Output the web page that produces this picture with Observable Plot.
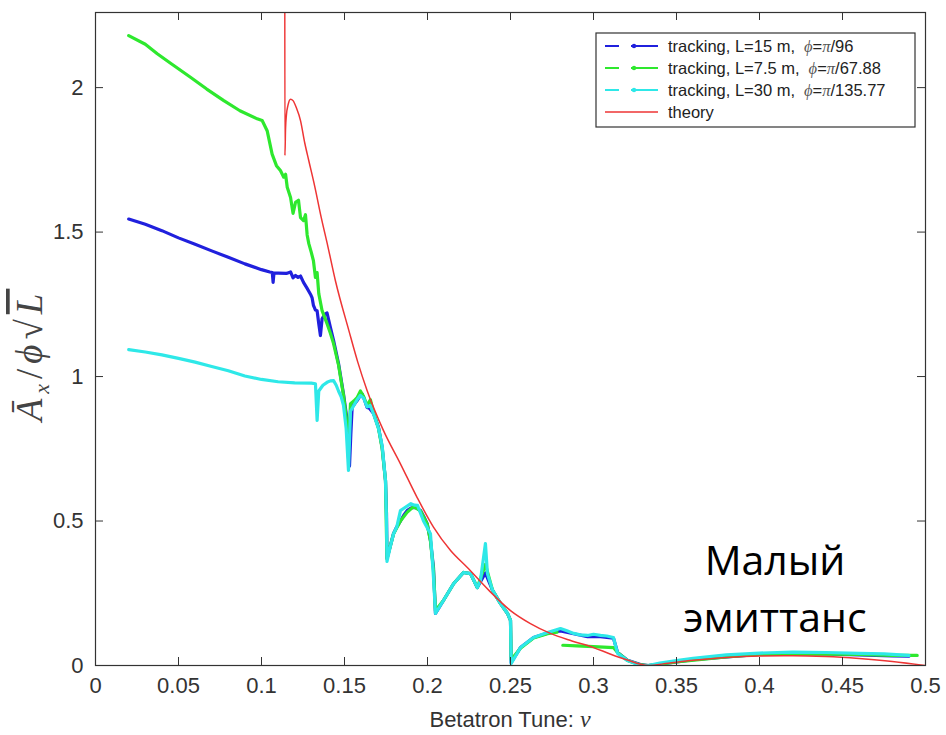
<!DOCTYPE html>
<html><head><meta charset="utf-8">
<script src="https://cdn.jsdelivr.net/npm/d3@7"></script>
<script src="https://cdn.jsdelivr.net/npm/@observablehq/plot@0.6"></script>
<style>
body{margin:0;background:#fff;}
#chart{position:relative;width:946px;height:735px;}
</style></head><body><div id="chart"></div>
<script>
// ---- data ----
const xTicks = [0,0.05,0.1,0.15,0.2,0.25,0.3,0.35,0.4,0.45,0.5];
const xTickLabels = ["0","0.05","0.1","0.15","0.2","0.25","0.3","0.35","0.4","0.45","0.5"];
const yTicks = [0,0.5,1,1.5,2];
const yTickLabels = ["0","0.5","1","1.5","2"];

const seriesNames = ["L15","L7.5","L30","theory"];
const legendText = ["tracking, L=15 m,","tracking, L=7.5 m,","tracking, L=30 m,","theory"];
const legendPhi = ["96","67.88","135.77",null];
const xLabel = "Betatron Tune: ";
const note = ["Малый","эмиттанс"];

const trackL15 = [[0.02,1.545],[0.03,1.527],[0.04,1.505],[0.05,1.48],[0.06,1.458],[0.07,1.435],[0.08,1.413],[0.09,1.39],[0.1,1.37],[0.105,1.362],[0.1065,1.36],[0.107,1.326],[0.1075,1.358],[0.11,1.358],[0.115,1.357],[0.1175,1.362],[0.119,1.342],[0.1205,1.35],[0.122,1.343],[0.1235,1.348],[0.1253,1.326],[0.1275,1.305],[0.1295,1.285],[0.1305,1.272],[0.1313,1.246],[0.1325,1.23],[0.1335,1.228],[0.1345,1.183],[0.1355,1.142],[0.1365,1.2],[0.138,1.215],[0.1395,1.22],[0.1415,1.17],[0.1434,1.125],[0.1464,1.045],[0.1494,0.94],[0.1516,0.848],[0.1524,0.72],[0.153,0.69],[0.1538,0.8],[0.1546,0.893],[0.156,0.905],[0.1576,0.917],[0.159,0.93],[0.1606,0.94],[0.162,0.92],[0.1636,0.893],[0.165,0.89],[0.1675,0.872],[0.1705,0.824],[0.1727,0.755],[0.1747,0.64],[0.1753,0.526],[0.1756,0.37],[0.177,0.4],[0.1795,0.456],[0.1815,0.48],[0.1837,0.5],[0.1857,0.52],[0.1877,0.536],[0.19,0.545],[0.1916,0.547],[0.1935,0.545],[0.1958,0.536],[0.1978,0.515],[0.1998,0.491],[0.2018,0.432],[0.2036,0.339],[0.2048,0.18],[0.2096,0.225],[0.2157,0.283],[0.2217,0.322],[0.2259,0.318],[0.23,0.27],[0.2319,0.29],[0.2349,0.32],[0.2392,0.26],[0.244,0.214],[0.2482,0.18],[0.25,0.156],[0.2504,0.01],[0.256,0.062],[0.2639,0.097],[0.2723,0.112],[0.2801,0.12],[0.288,0.11],[0.2964,0.1],[0.3042,0.1],[0.312,0.095],[0.3145,0.045],[0.3205,0.018],[0.3283,0.003],[0.333,0],[0.34,0.005],[0.35,0.012],[0.36,0.02],[0.38,0.03],[0.4,0.038],[0.42,0.04],[0.44,0.04],[0.46,0.037],[0.48,0.033],[0.49,0.032]];

const trackL75 = [[0.02,2.18],[0.03,2.15],[0.0372,2.117],[0.045,2.085],[0.0572,2.036],[0.067,1.995],[0.0773,1.955],[0.087,1.92],[0.0974,1.892],[0.1004,1.886],[0.1034,1.851],[0.1064,1.77],[0.109,1.73],[0.1114,1.713],[0.1134,1.69],[0.1145,1.7],[0.1155,1.655],[0.1175,1.62],[0.119,1.565],[0.1205,1.603],[0.1223,1.61],[0.1235,1.55],[0.1253,1.54],[0.1265,1.56],[0.1275,1.49],[0.1285,1.46],[0.13,1.43],[0.1313,1.4],[0.1325,1.343],[0.1335,1.36],[0.1345,1.287],[0.1365,1.228],[0.1395,1.183],[0.1415,1.15],[0.1434,1.114],[0.1464,1.04],[0.1494,0.935],[0.151,0.86],[0.1524,0.75],[0.1536,0.906],[0.1556,0.915],[0.1576,0.927],[0.1596,0.95],[0.1616,0.93],[0.1636,0.9],[0.1656,0.92],[0.1675,0.875],[0.1705,0.82],[0.1727,0.75],[0.1747,0.64],[0.1753,0.45],[0.1756,0.37],[0.1795,0.455],[0.1837,0.5],[0.1877,0.53],[0.1916,0.55],[0.1958,0.535],[0.1998,0.49],[0.2018,0.43],[0.2036,0.33],[0.2048,0.19],[0.2096,0.225],[0.2157,0.283],[0.2217,0.322],[0.2259,0.318],[0.23,0.27],[0.2349,0.35],[0.2392,0.26],[0.244,0.214],[0.2482,0.18],[0.25,0.156],[0.2504,0.02],[0.256,0.06],[0.2639,0.095],[0.2723,0.11],[0.278,0.115],[0.281,null],[0.2815,0.07],[0.29,0.068],[0.3,0.065],[0.312,0.062],[0.3145,0.045],[0.3205,0.017],[0.3283,0.002],[0.333,0],[0.35,0.012],[0.38,0.03],[0.4,0.038],[0.43,0.04],[0.46,0.038],[0.48,0.035],[0.495,0.035]];

const trackL30 = [[0.02,1.093],[0.03,1.085],[0.04,1.075],[0.05,1.063],[0.06,1.05],[0.07,1.035],[0.08,1.02],[0.09,1.002],[0.1,0.99],[0.11,0.982],[0.12,0.978],[0.13,0.977],[0.1325,0.975],[0.1335,0.848],[0.1345,0.95],[0.137,0.97],[0.1395,0.98],[0.1415,0.985],[0.1434,0.986],[0.145,0.97],[0.1464,0.95],[0.148,0.93],[0.1494,0.9],[0.151,0.82],[0.1524,0.675],[0.1536,0.88],[0.1556,0.9],[0.1576,0.92],[0.1596,0.935],[0.1616,0.925],[0.1636,0.895],[0.1656,0.9],[0.1675,0.87],[0.1705,0.82],[0.1727,0.76],[0.1747,0.64],[0.1753,0.5],[0.1756,0.36],[0.1775,0.41],[0.1795,0.455],[0.1815,0.48],[0.1837,0.536],[0.186,0.545],[0.19,0.56],[0.192,0.555],[0.194,0.554],[0.1976,0.5],[0.2018,0.456],[0.2036,0.305],[0.2048,0.18],[0.2096,0.225],[0.2157,0.283],[0.2217,0.322],[0.2259,0.318],[0.23,0.27],[0.2319,0.294],[0.2349,0.422],[0.2361,0.318],[0.2392,0.26],[0.244,0.214],[0.2482,0.18],[0.25,0.156],[0.2504,0.007],[0.256,0.062],[0.2639,0.097],[0.2723,0.114],[0.2801,0.128],[0.284,0.12],[0.288,0.111],[0.292,0.106],[0.2964,0.104],[0.3,0.108],[0.3042,0.104],[0.308,0.102],[0.312,0.097],[0.3145,0.042],[0.3205,0.017],[0.3283,0],[0.333,0],[0.34,0.008],[0.35,0.017],[0.36,0.025],[0.38,0.037],[0.4,0.043],[0.42,0.046],[0.44,0.045],[0.46,0.042],[0.475,0.04],[0.49,0.035]];

const theory = [[0.114,2.6],[0.1141,1.765],[0.1145,1.86],[0.115,1.905],[0.116,1.94],[0.1175,1.96],[0.119,1.955],[0.121,1.93],[0.1235,1.886],[0.126,1.81],[0.1285,1.747],[0.132,1.66],[0.136,1.55],[0.14,1.45],[0.1446,1.33],[0.1526,1.16],[0.158,1.05],[0.1636,0.952],[0.1735,0.813],[0.1837,0.698],[0.1937,0.582],[0.2036,0.479],[0.2139,0.398],[0.224,0.339],[0.237,0.26],[0.25,0.19],[0.262,0.145],[0.274,0.111],[0.287,0.085],[0.3,0.062],[0.31,0.04],[0.32,0.02],[0.333,0],[0.345,0.008],[0.36,0.018],[0.38,0.028],[0.4,0.033],[0.42,0.034],[0.44,0.031],[0.46,0.024],[0.48,0.014],[0.5,0]];

const colors = ["#2020dd","#2ee82e","#2ee8e8","#ee3535"];

// ---- build ----
const W = 946, H = 735, mL = 95, mR = 21, mT = 12, mB = 70;
const innerW = W - mL - mR, innerH = H - mT - mB;
const toRows = (arr, s) => arr.map(([nu, a]) => ({nu, a, s}));
const rows = [toRows(trackL15, seriesNames[0]), toRows(trackL75, seriesNames[1]), toRows(trackL30, seriesNames[2])];
const theoryRows = toRows(theory, seriesNames[3]);
const axisColor = "#333";
const tickLen = 8;

const plot = Plot.plot({
  width: W, height: H,
  marginLeft: mL, marginRight: mR, marginTop: mT, marginBottom: mB,
  style: {fontFamily: "'Liberation Sans', Arial, sans-serif", background: "white", color: axisColor, overflow: "visible"},
  x: {domain: [0, 0.5]},
  y: {domain: [0, 2.26]},
  marks: [
    ...rows.map((r, i) => Plot.line(r, {x: "nu", y: "a", stroke: colors[i], strokeWidth: 3.2, clip: true})),
    Plot.line(theoryRows, {x: "nu", y: "a", stroke: colors[3], strokeWidth: 1.5, curve: "monotone-x", clip: true}),
    Plot.frame({stroke: axisColor, strokeWidth: 1.2}),
    Plot.gridX(xTicks, {stroke: axisColor, strokeOpacity: 1, insetTop: innerH - tickLen}),
    Plot.gridX(xTicks, {stroke: axisColor, strokeOpacity: 1, insetBottom: innerH - tickLen}),
    Plot.gridY(yTicks, {stroke: axisColor, strokeOpacity: 1, insetRight: innerW - tickLen}),
    Plot.gridY(yTicks, {stroke: axisColor, strokeOpacity: 1, insetLeft: innerW - tickLen}),
    Plot.axisX(xTicks, {tickSize: 0, tickPadding: 12, fontSize: 22, label: null, tickFormat: (d) => xTickLabels[xTicks.indexOf(d)]}),
    Plot.axisY(yTicks, {tickSize: 0, tickPadding: 12, fontSize: 22, label: null, tickFormat: (d) => yTickLabels[yTicks.indexOf(d)]})
  ]
});
document.getElementById("chart").appendChild(plot);

const svg = d3.select(plot);
// x label
const xl = svg.append("text").attr("x", mL + innerW / 2).attr("y", 727).attr("text-anchor", "middle")
  .attr("font-family", "'Liberation Sans', Arial, sans-serif").attr("font-size", 22).attr("fill", axisColor);
xl.append("tspan").text(xLabel);
xl.append("tspan").attr("font-family", "'Liberation Serif', serif").attr("font-style", "italic").attr("font-size", 24).text("ν");

// y label
const yl = svg.append("text").attr("transform", "translate(42,355) rotate(-90)").attr("text-anchor", "middle")
  .attr("font-family", "'Liberation Serif', serif").attr("font-style", "italic").attr("font-size", 37)
  .attr("letter-spacing", 5).attr("fill", "#444");
yl.append("tspan").text("Ā");
yl.append("tspan").attr("font-size", 22).attr("dy", 7).text("x");
yl.append("tspan").attr("dy", -7).attr("font-style", "normal").text("/");
yl.append("tspan").text("ϕ");
yl.append("tspan").attr("font-style", "normal").text("√");
yl.append("tspan").attr("text-decoration", "overline").text("L");

// legend
const lg = svg.append("g").attr("text-anchor", "start");
lg.append("rect").attr("x", 596).attr("y", 33).attr("width", 319).attr("height", 94)
  .attr("fill", "white").attr("stroke", axisColor).attr("stroke-width", 1.2);
legendText.forEach((t, i) => {
  const y = 46 + i * 22;
  if (i < 3) {
    lg.append("line").attr("x1", 605).attr("x2", 619).attr("y1", y).attr("y2", y).attr("stroke", colors[i]).attr("stroke-width", 2);
    lg.append("line").attr("x1", 631).attr("x2", 658).attr("y1", y).attr("y2", y).attr("stroke", colors[i]).attr("stroke-width", 2);
    lg.append("circle").attr("cx", 634).attr("cy", y).attr("r", 2.2).attr("fill", colors[i]);
  } else {
    lg.append("line").attr("x1", 605).attr("x2", 658).attr("y1", y).attr("y2", y).attr("stroke", colors[i]).attr("stroke-width", 1.5);
  }
  const tx = lg.append("text").attr("x", 668).attr("y", y + 6).attr("font-size", 16.5).attr("text-anchor", "start")
    .attr("font-family", "'Liberation Sans', Arial, sans-serif").attr("fill", "#222");
  tx.append("tspan").text(t);
  if (legendPhi[i]) {
    tx.append("tspan").attr("dx", 9).attr("font-family", "'Liberation Serif', serif").attr("font-style", "italic").attr("fill", "#555").text("ϕ");
    tx.append("tspan").text("=");
    tx.append("tspan").attr("font-family", "'Liberation Serif', serif").attr("font-style", "italic").attr("fill", "#555").text("π");
    tx.append("tspan").text("/" + legendPhi[i]);
  }
});

// annotation
note.forEach((t, i) => {
  svg.append("text").attr("x", 775).attr("y", 575 + i * 57).attr("text-anchor", "middle")
    .attr("font-family", "'Open Sans', 'Noto Sans', sans-serif").attr("font-size", 41).attr("fill", "#000").text(t);
});
</script></body></html>
